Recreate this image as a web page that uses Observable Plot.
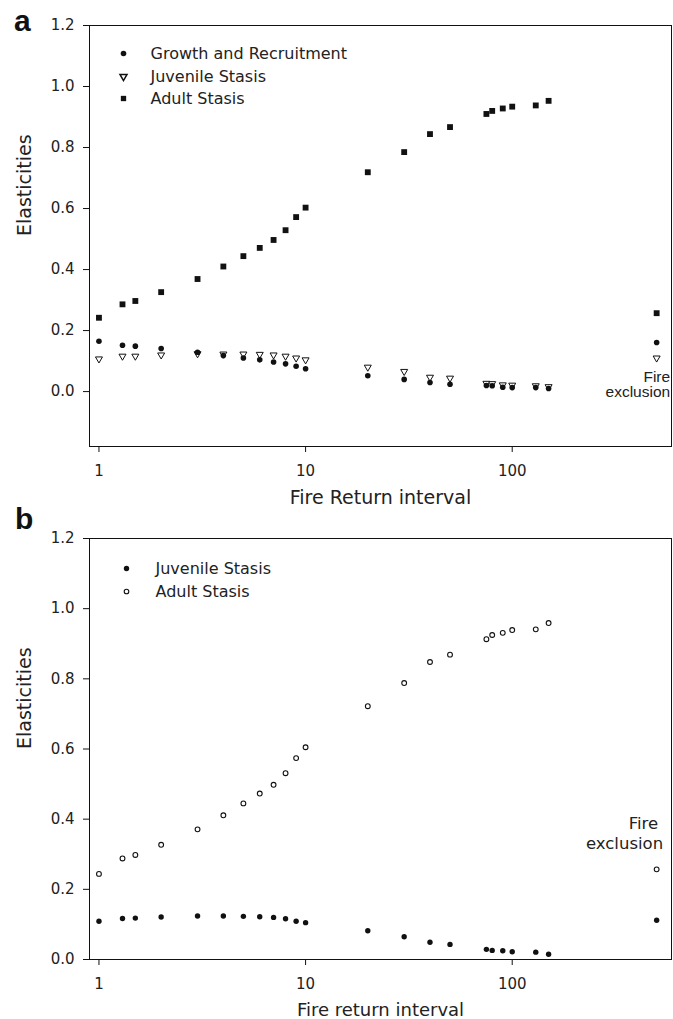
<!DOCTYPE html>
<html><head><meta charset="utf-8">
<script src="https://cdn.jsdelivr.net/npm/d3@7"></script>
<script src="https://cdn.jsdelivr.net/npm/@observablehq/plot@0.6"></script>
<style>
body{margin:0;background:#fff;}
#wrap{position:relative;width:673px;height:1019px;overflow:hidden;}
.panel{position:absolute;left:0;}
.lab{position:absolute;font-family:"Liberation Sans",Arial,sans-serif;font-weight:bold;font-size:30px;line-height:30px;color:#111;}
</style></head><body>
<div id="wrap">
<div id="pa" class="panel" style="top:0"></div>
<div id="pb" class="panel" style="top:515px"></div>
<div class="lab" style="left:14px;top:6px">a</div>
<div class="lab" style="left:15px;top:504px">b</div>
</div>
<script>
// Fire return intervals (500 = fire exclusion)
const years = [1, 1.3, 1.5, 2, 3, 4, 5, 6, 7, 8, 9, 10, 20, 30, 40, 50, 75, 80, 90, 100, 130, 150, 500];

// Panel a
const growthA = [0.165, 0.152, 0.149, 0.141, 0.129, 0.118, 0.110, 0.104, 0.097, 0.091, 0.083, 0.075, 0.052, 0.040, 0.030, 0.024, 0.020, 0.019, 0.014, 0.013, 0.013, 0.010, 0.161];
const juvA    = [0.107, 0.116, 0.116, 0.120, 0.124, 0.123, 0.123, 0.122, 0.120, 0.116, 0.110, 0.104, 0.080, 0.066, 0.047, 0.044, 0.027, 0.026, 0.022, 0.021, 0.019, 0.016, 0.110];
const adultA  = [0.242, 0.286, 0.297, 0.326, 0.369, 0.410, 0.444, 0.471, 0.497, 0.529, 0.572, 0.603, 0.719, 0.785, 0.844, 0.867, 0.910, 0.920, 0.928, 0.934, 0.938, 0.953, 0.257];

// Panel b
const juvB    = [0.109, 0.117, 0.118, 0.121, 0.124, 0.124, 0.123, 0.122, 0.120, 0.116, 0.109, 0.105, 0.082, 0.065, 0.049, 0.043, 0.029, 0.026, 0.025, 0.022, 0.021, 0.015, 0.112];
const adultB  = [0.244, 0.288, 0.298, 0.327, 0.371, 0.411, 0.445, 0.473, 0.498, 0.531, 0.574, 0.605, 0.722, 0.788, 0.848, 0.869, 0.913, 0.925, 0.931, 0.939, 0.941, 0.959, 0.257];

const seriesA = ["Growth and Recruitment", "Juvenile Stasis", "Adult Stasis"];
const seriesB = ["Juvenile Stasis", "Adult Stasis"];
const xTicks = [1, 10, 100];
const yTicks = [0, 0.2, 0.4, 0.6, 0.8, 1.0, 1.2];
const fireX = 500;

const dataA = years.map((x, i) => ({x, growth: growthA[i], juv: juvA[i], adult: adultA[i]}));
const dataB = years.map((x, i) => ({x, juv: juvB[i], adult: adultB[i]}));

const ink = "#111";
const txt = "#222";
const font = "DejaVu Sans";

function axes(xLabel, xLabelSize) {
  return [
    Plot.frame({stroke: ink, strokeWidth: 1}),
    Plot.axisX({ticks: xTicks, tickSize: 6, tickPadding: 13, tickFormat: d => String(d), label: null, fontSize: 15, stroke: ink, fill: txt}),
    Plot.axisY({ticks: yTicks, tickSize: 6, tickPadding: 9, tickFormat: d => d.toFixed(1), label: null, fontSize: 15, stroke: ink, fill: txt}),
    Plot.text(["Elasticities"], {text: d => d, frameAnchor: "left", dx: -65, rotate: -90, fontSize: 19, fill: txt}),
    Plot.text([xLabel], {text: d => d, frameAnchor: "bottom", dy: 51, lineAnchor: "middle", fontSize: xLabelSize, fill: txt})
  ];
}

const plotA = Plot.plot({
  width: 673, height: 515,
  marginTop: 25, marginLeft: 89, marginRight: 2, marginBottom: 69,
  style: {fontFamily: font, fontSize: "15px", color: txt, background: "white"},
  x: {type: "log", domain: [0.9, 590]},
  y: {domain: [-0.18, 1.2]},
  marks: [
    ...axes("Fire Return interval", 19),
    Plot.dot(dataA, {x: "x", y: "adult", symbol: "square", r: 3.3, fill: ink, stroke: "none"}),
    Plot.dot(dataA, {x: "x", y: "juv", symbol: "triangle", rotate: 180, r: 2.6, fill: "white", stroke: ink, strokeWidth: 1}),
    Plot.dot(dataA, {x: "x", y: "growth", symbol: "circle", r: 2.8, fill: ink, stroke: "none"}),
    // legend
    Plot.dot([seriesA[0]], {frameAnchor: "top-left", dx: 34, dy: 28, symbol: "circle", r: 2.8, fill: ink}),
    Plot.dot([seriesA[1]], {frameAnchor: "top-left", dx: 34, dy: 51, symbol: "triangle", rotate: 180, r: 2.6, fill: "white", stroke: ink}),
    Plot.dot([seriesA[2]], {frameAnchor: "top-left", dx: 34, dy: 73, symbol: "square", r: 3.0, fill: ink}),
    Plot.text([seriesA[0]], {text: d => d, frameAnchor: "top-left", dx: 61, dy: 28, textAnchor: "start", lineAnchor: "middle", fontSize: 16, fill: txt}),
    Plot.text([seriesA[1]], {text: d => d, frameAnchor: "top-left", dx: 61, dy: 51, textAnchor: "start", lineAnchor: "middle", fontSize: 16, fill: txt}),
    Plot.text([seriesA[2]], {text: d => d, frameAnchor: "top-left", dx: 61, dy: 73, textAnchor: "start", lineAnchor: "middle", fontSize: 16, fill: txt}),
    // fire exclusion annotation
    Plot.text([{x: fireX, y: 0.049, t: "Fire"}], {x: "x", y: "y", text: "t", textAnchor: "end", lineAnchor: "middle", dx: 13.5, fontFamily: "Liberation Sans", fontSize: 15.5, fill: txt}),
    Plot.text([{x: fireX, y: -0.003, t: "exclusion"}], {x: "x", y: "y", text: "t", textAnchor: "end", lineAnchor: "middle", dx: 13.5, fontFamily: "Liberation Sans", fontSize: 15.5, fill: txt})
  ]
});
document.getElementById("pa").appendChild(plotA);

const plotB = Plot.plot({
  width: 673, height: 504,
  marginTop: 23, marginLeft: 89, marginRight: 2, marginBottom: 60,
  style: {fontFamily: font, fontSize: "15px", color: txt, background: "white"},
  x: {type: "log", domain: [0.9, 590]},
  y: {domain: [0, 1.2]},
  marks: [
    ...axes("Fire return interval", 18),
    Plot.dot(dataB, {x: "x", y: "adult", symbol: "circle", r: 2.4, fill: "white", stroke: ink, strokeWidth: 1.1}),
    Plot.dot(dataB, {x: "x", y: "juv", symbol: "circle", r: 2.7, fill: ink, stroke: "none"}),
    // legend
    Plot.dot([seriesB[0]], {frameAnchor: "top-left", dx: 37, dy: 30, symbol: "circle", r: 2.7, fill: ink}),
    Plot.dot([seriesB[1]], {frameAnchor: "top-left", dx: 37, dy: 53, symbol: "circle", r: 2.3, fill: "white", stroke: ink, strokeWidth: 1.1}),
    Plot.text([seriesB[0]], {text: d => d, frameAnchor: "top-left", dx: 66, dy: 30, textAnchor: "start", lineAnchor: "middle", fontSize: 16, fill: txt}),
    Plot.text([seriesB[1]], {text: d => d, frameAnchor: "top-left", dx: 66, dy: 53, textAnchor: "start", lineAnchor: "middle", fontSize: 16, fill: txt}),
    // fire exclusion annotation
    Plot.text([{x: fireX, y: 0.386, t: "Fire"}], {x: "x", y: "y", text: "t", textAnchor: "end", lineAnchor: "middle", dx: 1.5, fontSize: 16.5, fill: txt}),
    Plot.text([{x: fireX, y: 0.329, t: "exclusion"}], {x: "x", y: "y", text: "t", textAnchor: "end", lineAnchor: "middle", dx: 6.5, fontSize: 16.5, fill: txt})
  ]
});
document.getElementById("pb").appendChild(plotB);
</script>
</body></html>
